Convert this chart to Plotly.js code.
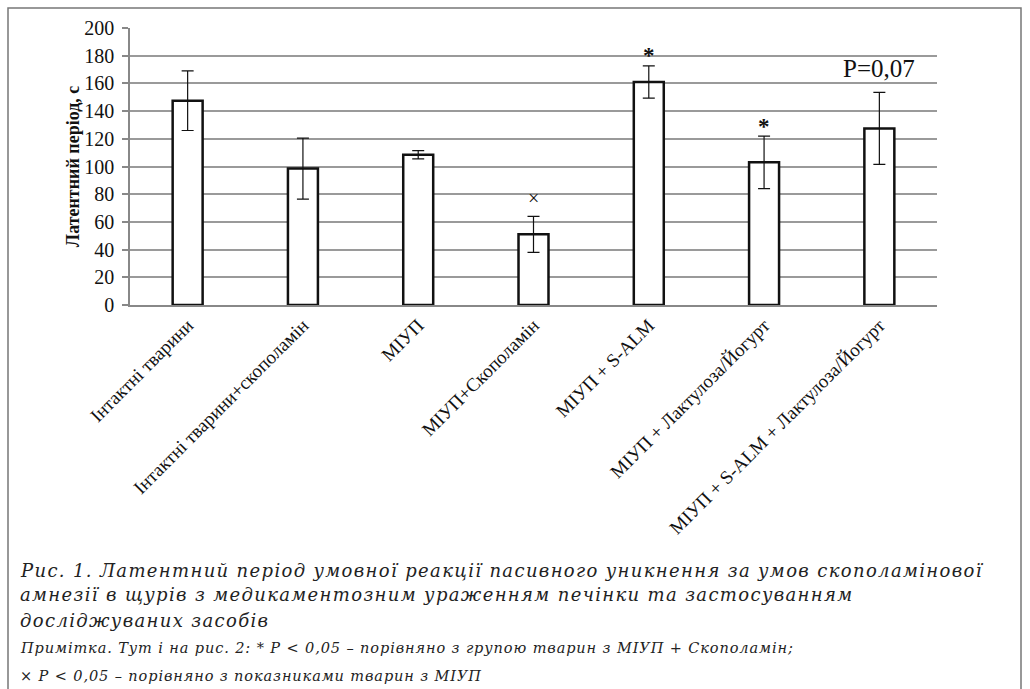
<!DOCTYPE html>
<html>
<head>
<meta charset="utf-8">
<script src="https://cdn.plot.ly/plotly-3.0.1.min.js"></script>
<style>
html, body { margin: 0; padding: 0; background: #fff; }
#chart { width: 1030px; height: 689px; }
</style>
</head>
<body>
<div id="chart"></div>
<script>
const categories = [
  "Інтактні тварини",
  "Інтактні тварини+скополамін",
  "МІУП",
  "МІУП+Скополамін",
  "МІУП + S-ALM",
  "МІУП + Лактулоза/Йогурт",
  "МІУП + S-ALM + Лактулоза/Йогурт"
];
const latentPeriod = [147.5, 98.5, 108.5, 51, 161, 103, 127.5];
const errorSE = [21.5, 22, 3, 13, 11.7, 19, 26];
const yTicks = [0, 20, 40, 60, 80, 100, 120, 140, 160, 180, 200];

const markLabels = [
  {cat: 3, y: 77, text: "×", size: 20, bold: false},
  {cat: 4, y: 180, text: "*", size: 23, bold: true},
  {cat: 5, y: 129, text: "*", size: 23, bold: true},
  {cat: 6, y: 171, text: "P=0,07", size: 25, bold: false}
];

const captionLines = [
  "Рис. 1. Латентний період умовної реакції пасивного уникнення за умов скополамінової",
  "амнезії в щурів з медикаментозним ураженням печінки та застосуванням",
  "досліджуваних засобів"
];
const noteLines = [
  "Примітка. Тут і на рис. 2: * P &lt; 0,05 – порівняно з групою тварин з МІУП + Скополамін;",
  "× P &lt; 0,05 – порівняно з показниками тварин з МІУП"
];

// layout geometry (pixels)
const W = 1030, H = 689;
const L = 130, R = 937, T = 28, B = 305;
const pw = R - L, ph = B - T;
const px = x => (x - L) / pw;
const py = y => (B - y) / ph;

const serif = "Liberation Serif, Times New Roman, serif";
const capFont = "DejaVu Serif, serif";

const annotations = [];
markLabels.forEach(m => {
  annotations.push({
    x: categories[m.cat], y: m.y, xref: "x", yref: "y",
    text: m.bold ? "<b>" + m.text + "</b>" : m.text,
    showarrow: false, xanchor: "center", yanchor: "middle",
    font: {family: serif, size: m.size, color: "#111"}
  });
});
const capY = [570, 595, 620];
captionLines.forEach((t, i) => {
  annotations.push({
    x: px(18), y: py(capY[i]), xref: "paper", yref: "paper",
    text: '<span style="letter-spacing:1.35px">' + t + '</span>',
    showarrow: false, xanchor: "left", yanchor: "middle",
    font: {family: capFont, size: 18, style: "italic", color: "#222"}
  });
});
const noteY = [648, 676];
noteLines.forEach((t, i) => {
  annotations.push({
    x: px(18), y: py(noteY[i]), xref: "paper", yref: "paper",
    text: '<span style="letter-spacing:0.9px">' + t + '</span>',
    showarrow: false, xanchor: "left", yanchor: "middle",
    font: {family: capFont, size: 14.5, style: "italic", color: "#222"}
  });
});

const trace = {
  type: "bar",
  x: categories,
  y: latentPeriod,
  marker: {color: "#ffffff", line: {color: "#111", width: 2.5}},
  error_y: {type: "data", array: errorSE, visible: true, color: "#111", thickness: 1.2, width: 6},
  hoverinfo: "x+y"
};

const layout = {
  width: W, height: H,
  margin: {l: L, r: W - R, t: T, b: H - B, autoexpand: false},
  paper_bgcolor: "#fff", plot_bgcolor: "#fff",
  showlegend: false,
  bargap: 0.74,
  font: {family: serif, color: "#111"},
  xaxis: {
    type: "category",
    tickangle: -45,
    tickfont: {family: serif, size: 19, color: "#111"},
    showgrid: false,
    showline: true, linecolor: "#888", linewidth: 1.5,
    ticks: "", zeroline: false, automargin: false
  },
  yaxis: {
    range: [0, 200],
    tickvals: yTicks,
    tickfont: {family: serif, size: 20, color: "#111"},
    showgrid: true, gridcolor: "#9a9a9a", gridwidth: 1.5,
    showline: true, linecolor: "#888", linewidth: 1.5,
    ticks: "outside", ticklen: 6, tickcolor: "#888", tickwidth: 1.5,
    ticklabelstandoff: 4,
    zeroline: false, automargin: false,
    title: {text: "<b>Латентний період, с</b>", font: {family: serif, size: 18, color: "#111"}, standoff: 0}
  },
  shapes: [{
    type: "rect", xref: "paper", yref: "paper",
    x0: px(8), x1: px(1021), y0: py(720), y1: py(8),
    line: {color: "#777", width: 1.5}, fillcolor: "rgba(0,0,0,0)", layer: "below"
  }],
  annotations: annotations
};

Plotly.newPlot("chart", [trace], layout, {displayModeBar: false, staticPlot: false});
</script>
</body>
</html>
